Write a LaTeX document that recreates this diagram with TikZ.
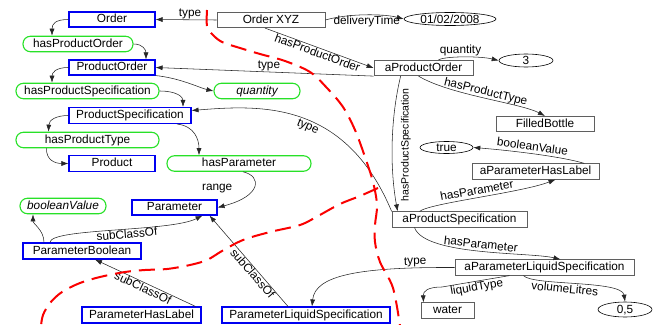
\documentclass[tikz,border=0pt]{standalone}
\usepackage{fontspec}
\setmainfont{Liberation Sans}
\usetikzlibrary{arrows.meta,shapes.geometric}

\definecolor{clsblue}{RGB}{0,0,240}
\definecolor{propgreen}{RGB}{40,225,40}
\definecolor{instgray}{RGB}{95,95,95}
\definecolor{cutred}{RGB}{250,0,0}

\tikzset{
  txt/.style={font=\fontsize{11.8}{13}\selectfont, text height=8.6pt, text depth=2.4pt},
  base/.style={txt, inner sep=0pt, align=center},
  cls/.style={base, draw=clsblue, line width=1.1pt, minimum height=15pt},
  prop/.style={base, draw=propgreen, line width=1.1pt, rounded corners=7.5pt, minimum height=15.5pt},
  inst/.style={base, draw=instgray, line width=0.7pt, minimum height=15.5pt},
  lit/.style={font=\fontsize{11.8}{13}\selectfont, text height=8.5pt, text depth=0pt,
              inner sep=0pt, draw=black, ellipse, line width=0.6pt},
  lbl/.style={txt, inner sep=0.5pt},
  link/.style={draw=black!85, line width=0.55pt},
  rel/.style={link, -{Latex[length=7pt,width=5pt]}},
  ler/.style={link, {Latex[length=7pt,width=5pt]}-},
  cut/.style={draw=cutred, line width=2pt, dash pattern=on 16pt off 8pt},
}

\begin{document}
\begin{tikzpicture}[x=1pt, y=-1pt]
\useasboundingbox (0,0) rectangle (660,324);

% ---- schema: classes ----
\node[cls, minimum width=86pt] (order) at (112,19.5) {Order};
\node[cls, minimum width=86pt] (po) at (112,67.5) {ProductOrder};
\node[cls, minimum width=122pt, minimum height=16pt] (ps) at (130,115.5) {ProductSpecification};
\node[cls, minimum width=86pt, minimum height=16pt] (prod) at (112,163.5) {Product};
\node[cls, minimum width=85pt] (param) at (174.5,207.5) {Parameter};
\node[cls, minimum width=118pt, minimum height=16pt] (pb) at (82,251) {ParameterBoolean};
\node[cls, minimum width=119pt, minimum height=16pt] (phl) at (141.5,315) {ParameterHasLabel};
\node[cls, minimum width=168pt, minimum height=16pt] (pls) at (306,315) {ParameterLiquidSpecification};

% ---- schema: properties ----
\node[prop, minimum width=110pt] (hpo) at (78,44) {hasProductOrder};
\node[prop, minimum width=143pt] (hps) at (87.5,91) {hasProductSpecification};
\node[prop, minimum width=86pt] (qty) at (257,91) {\itshape quantity};
\node[prop, minimum width=143pt] (hpt) at (87.5,140) {hasProductType};
\node[prop, minimum width=144pt] (hpar) at (239,163.5) {hasParameter};
\node[prop, minimum width=86pt] (bv) at (63,206) {\itshape booleanValue};

% ---- instances ----
\node[inst, minimum width=108pt] (oxyz) at (271,20) {Order XYZ};
\node[inst, minimum width=99pt] (apo) at (423.5,68) {aProductOrder};
\node[inst, minimum width=98pt] (fb) at (545,124) {FilledBottle};
\node[inst, minimum width=127pt] (aphl) at (535.5,171.5) {aParameterHasLabel};
\node[inst, minimum width=135pt] (aps) at (459.5,219.5) {aProductSpecification};
\node[inst, minimum width=179pt] (apls) at (544.5,267.5) {aParameterLiquidSpecification};
\node[inst, minimum width=53pt] (water) at (447.5,310.5) {water};

% ---- literals ----
\node[lit, minimum width=92pt, minimum height=13pt] (date) at (450,19) {01/02/2008};
\node[lit, minimum width=54pt, minimum height=13pt] (three) at (526,60.5) {3};
\node[lit, minimum width=53pt, minimum height=12pt] (true) at (446.5,147.5) {true};
\node[lit, minimum width=54pt, minimum height=15pt] (zero) at (625,309.5) {0,5};

% ---- schema links ----
\draw[rel] (order.west) .. controls (55,19.5) and (52,24) .. ([xshift=-26pt]hpo.north);
\draw[rel] (hpo.east) .. controls (143,44) and (146,50) .. ([xshift=34pt]po.north);
\draw[rel] (po.west) .. controls (55,67.5) and (52,73) .. ([xshift=-35.5pt]hps.north);
\draw[rel] (hps.east) .. controls (177,91) and (183,97) .. ([xshift=53pt]ps.north);
\draw[rel] (po.south east) .. controls (180,78) and (200,88) .. (qty.west);
\draw[rel] (ps.west) .. controls (56,115.5) and (49,120) .. ([xshift=-39pt]hpt.north);
\draw[rel] ([xshift=-41pt]hpt.south) .. controls (46,160) and (55,163.5) .. (prod.west);
\draw[rel] ([xshift=47pt]ps.south) .. controls (195,126) and (199,140) .. ([xshift=-40pt]hpar.north);
\draw[rel] ([xshift=4pt]hpar.south) .. controls (262,176) and (262,196) .. (param.east)
  node[lbl, pos=0.5, left=21pt] {range};
\draw[rel] ([xshift=-38pt]pb.north) .. controls (44,230) and (33,224) .. ([xshift=-30pt]bv.south);
\draw[rel] ([xshift=-32pt]pb.north) .. controls (50,228) and (170,232) .. ([xshift=28pt]param.south)
  node[lbl, pos=0.56, sloped, below] {subClassOf};
\draw[ler] ([xshift=13pt]pb.south) -- ([xshift=-6pt]phl.north east)
  node[lbl, pos=0.5, sloped, below] {subClassOf};
\draw[ler] ([xshift=35pt]param.south) -- ([xshift=-18pt]pls.north)
  node[lbl, pos=0.6, sloped, below] {subClassOf};

% ---- instance links ----
\draw[ler] (order.east) -- (oxyz.west) node[lbl, pos=0.565, above] {type};
\draw[rel] (oxyz.east) .. controls (350,13) and (385,14) .. (date.west)
  node[lbl, pos=0.5, below] {deliveryTime};
\draw[rel] ([xshift=-6pt]oxyz.south) -- (apo.west)
  node[lbl, midway, sloped, below] {hasProductOrder};
\draw[ler] (po.east) -- (apo.south west) node[lbl, pos=0.52, above] {type};
\draw[rel] ([xshift=15pt]apo.north) .. controls (445,56) and (480,56) .. (three.west)
  node[lbl, pos=0.45, above] {quantity};
\draw[rel] ([xshift=-5pt]apo.south) .. controls (450,95) and (520,103) .. (fb.north)
  node[lbl, pos=0.5, sloped, above] {hasProductType};
\draw[rel] ([xshift=27pt]apo.south west) .. controls (390,120) and (390,170) .. ([xshift=6pt]aps.north west)
  node[pos=0.5, xshift=8pt, rotate=90, anchor=north, inner sep=0.5pt,
       font=\fontsize{10.5}{12}\selectfont] {hasProductSpecification};
\draw[ler] ([yshift=5pt]ps.east) .. controls (260,105) and (345,100) .. (aps.north west)
  node[lbl, pos=0.55, sloped, below] {type};
\draw[rel] ([xshift=-40pt]aps.north) .. controls (430,203) and (520,193) .. ([xshift=20pt]aphl.south)
  node[lbl, pos=0.5, sloped, above] {hasParameter};
\draw[ler] (true.east) .. controls (505,150) and (560,156) .. ([xshift=-15pt]aphl.north east)
  node[lbl, pos=0.5, sloped, above] {booleanValue};
\draw[rel] ([xshift=-45pt]aps.south) .. controls (425,256) and (530,252) .. ([xshift=16pt]apls.north)
  node[lbl, pos=0.5, sloped, above] {hasParameter};
\draw[ler] ([xshift=6pt]pls.north) .. controls (315,275) and (360,267) .. (apls.west)
  node[lbl, pos=0.85, sloped, above] {type};
\draw[ler] ([xshift=-24pt]water.north) .. controls (423,291) and (428,287) .. (442,287)
  -- ([xshift=-35pt]apls.south) node[lbl, pos=0.5, sloped, below] {liquidType};
\draw[rel] ([xshift=-21pt]apls.south) .. controls (533,286) and (622,280) .. (zero.north)
  node[lbl, pos=0.42, sloped, below] {volumeLitres};

% ---- dashed red boundary lines ----
\draw[cut] plot[smooth, tension=0.55] coordinates {(207,10) (207,26) (212,34) (222,42) (240,48)
  (260,54) (285,61) (310,72) (327,88) (343,107) (355,130) (365,157) (373,182) (377,205)
  (375,225) (375,242) (380,262) (393,288) (400,326)};
\draw[cut] plot[smooth, tension=0.55] coordinates {(378,188) (360,196) (340,204) (318,216)
  (300,225) (270,232) (243,240) (222,251) (207,260) (190,265) (167,269) (145,270) (125,272)
  (100,277) (80,283) (62,292) (50,303) (43,315) (41,326)};
\end{tikzpicture}
\end{document}
